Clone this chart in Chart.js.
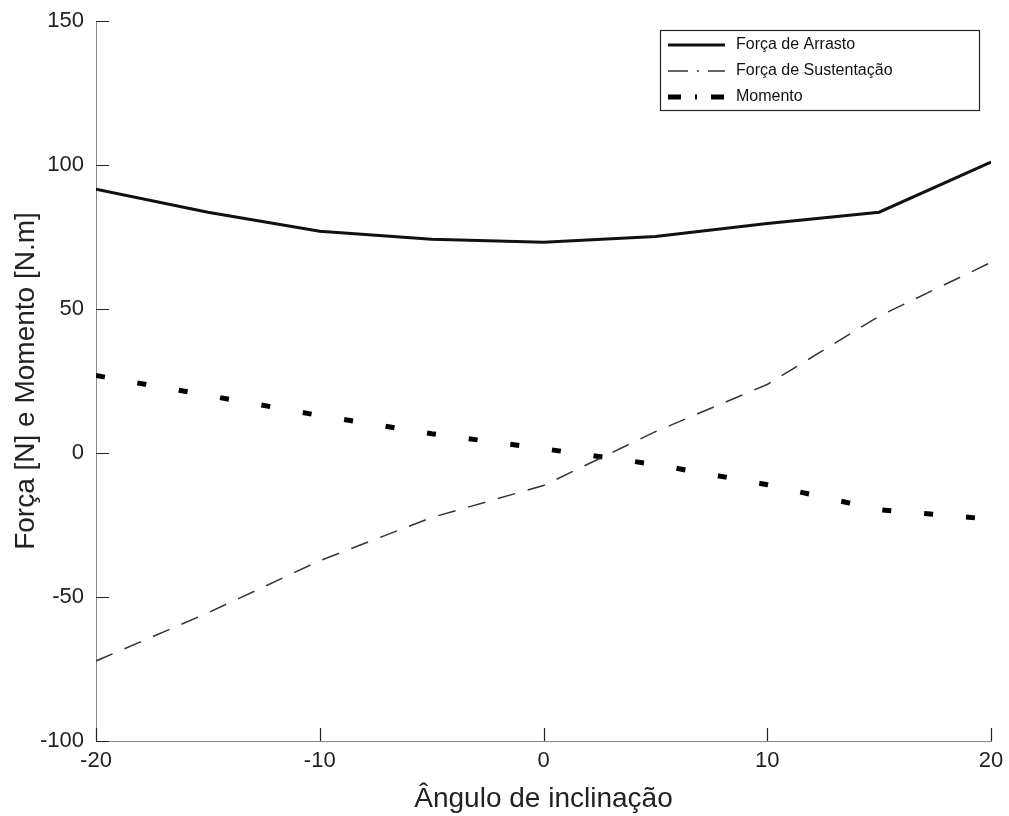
<!DOCTYPE html>
<html>
<head>
<meta charset="utf-8">
<script src="https://cdn.jsdelivr.net/npm/chart.js@4.4.0/dist/chart.umd.min.js"></script>
<style>
  html, body { margin: 0; padding: 0; background: #ffffff; }
  #wrap { width: 1009px; height: 816px; }
</style>
</head>
<body>
<div id="wrap"><canvas id="chart" width="1009" height="816"></canvas></div>
<script>
// Ângulo de inclinação (graus)
const angles = [-20, -15, -10, -5, 0, 5, 10, 15, 20];
// valores
const arrasto = [91.6, 83.6, 77.0, 74.2, 73.2, 75.2, 79.7, 83.6, 101.0];
const sustentacao = [-72.2, -55.5, -37.4, -22.4, -11.3, 7.4, 23.8, 47.5, 66.2];
const momento = [26.9, 20.0, 13.0, 6.7, 1.5, -4.0, -11.0, -19.7, -23.0];

const seriesLabels = ['Força de Arrasto', 'Força de Sustentação', 'Momento'];
const xTicks = [-20, -10, 0, 10, 20];
const yTicks = [-100, -50, 0, 50, 100, 150];

const FONT = '"Liberation Sans", Arial, sans-serif';

function toPoints(values) {
    return angles.map((a, i) => ({ x: a, y: values[i] }));
}

// inward ticks, matlab style
const innerTicks = {
    id: 'innerTicks',
    afterDatasetsDraw(chart) {
        const { ctx, chartArea, scales } = chart;
        ctx.save();
        ctx.strokeStyle = '#222';
        ctx.lineWidth = 1.2;
        ctx.beginPath();
        xTicks.forEach(v => {
            const px = Math.round(scales.x.getPixelForValue(v)) + 0.5;
            ctx.moveTo(px, chartArea.bottom);
            ctx.lineTo(px, chartArea.bottom - 13);
        });
        yTicks.forEach(v => {
            const py = Math.round(scales.y.getPixelForValue(v)) + 0.5;
            ctx.moveTo(chartArea.left, py);
            ctx.lineTo(chartArea.left + 13, py);
        });
        ctx.stroke();
        ctx.restore();
    }
};

// legend box in the upper right of the plot
const boxLegend = {
    id: 'boxLegend',
    afterDraw(chart) {
        const { ctx } = chart;
        const x0 = 660, y0 = 30, w = 319, h = 80;
        ctx.save();
        ctx.fillStyle = '#fff';
        ctx.fillRect(x0, y0, w, h);
        ctx.strokeStyle = '#222';
        ctx.lineWidth = 1.2;
        ctx.strokeRect(x0 + 0.5, y0 + 0.5, w, h);
        ctx.font = '16px ' + FONT;
        ctx.textBaseline = 'middle';
        chart.data.datasets.forEach((ds, i) => {
            const y = y0 + 15 + i * 26;
            ctx.beginPath();
            ctx.strokeStyle = ds.borderColor;
            ctx.lineWidth = ds.borderWidth;
            ctx.setLineDash(ds.legendDash || []);
            ctx.moveTo(x0 + 8, y);
            ctx.lineTo(x0 + 65, y);
            ctx.stroke();
            ctx.setLineDash([]);
            ctx.fillStyle = '#111';
            ctx.fillText(ds.label, x0 + 76, y);
        });
        ctx.restore();
    }
};

new Chart(document.getElementById('chart').getContext('2d'), {
    type: 'line',
    data: {
        datasets: [
            {
                label: seriesLabels[0],
                data: toPoints(arrasto),
                borderColor: '#111',
                borderWidth: 3,
                legendDash: []
            },
            {
                label: seriesLabels[1],
                data: toPoints(sustentacao),
                borderColor: '#333',
                borderWidth: 1.5,
                borderDash: [18, 13],
                legendDash: [20, 9, 2, 9]
            },
            {
                label: seriesLabels[2],
                data: toPoints(momento),
                borderColor: '#000',
                borderWidth: 5,
                borderDash: [9, 33],
                legendDash: [13, 14, 2, 14]
            }
        ].map(ds => ({ ...ds, fill: false, tension: 0, pointRadius: 0, borderCapStyle: 'butt' }))
    },
    options: {
        responsive: false,
        animation: false,
        layout: { padding: { top: 21, right: 18, left: 0, bottom: 0 } },
        plugins: {
            legend: { display: false },
            tooltip: { enabled: false }
        },
        scales: {
            x: {
                type: 'linear',
                min: -20,
                max: 20,
                afterBuildTicks: s => { s.ticks = xTicks.map(v => ({ value: v })); },
                afterFit: s => { s.height = 75; s.paddingLeft = 0; s.paddingRight = 0; },
                ticks: { color: '#222', font: { family: FONT, size: 22 }, padding: 7, maxRotation: 0 },
                grid: { drawOnChartArea: false, drawTicks: false },
                border: { display: true, color: '#888', width: 1 },
                title: { display: true, text: 'Ângulo de inclinação', color: '#222', font: { family: FONT, size: 28 }, padding: { top: 0, bottom: 0 } }
            },
            y: {
                min: -100,
                max: 150,
                afterBuildTicks: s => { s.ticks = yTicks.map(v => ({ value: v })); },
                afterFit: s => { s.width = 96; s.paddingTop = 0; s.paddingBottom = 0; },
                ticks: { color: '#222', font: { family: FONT, size: 22 }, padding: 12 },
                grid: { drawOnChartArea: false, drawTicks: false },
                border: { display: true, color: '#888', width: 1 },
                title: { display: true, text: 'Força [N] e Momento [N.m]', color: '#222', font: { family: FONT, size: 28 }, padding: { top: 9, bottom: 0 } }
            }
        }
    },
    plugins: [innerTicks, boxLegend]
});
</script>
</body>
</html>
